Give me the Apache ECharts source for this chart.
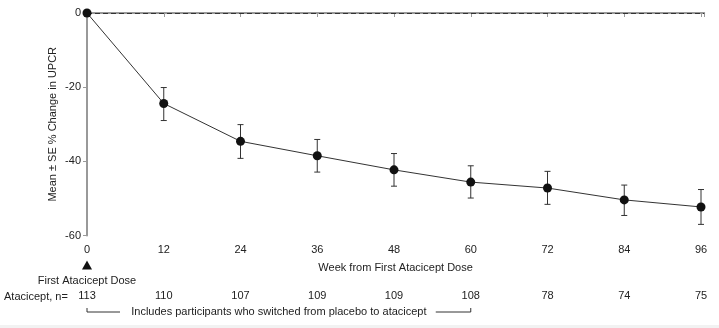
<!DOCTYPE html>
<html><head><meta charset="utf-8">
<script src="https://cdn.jsdelivr.net/npm/echarts@6/dist/echarts.min.js"></script>
<style>html,body{margin:0;padding:0;background:#fff}#c{width:719px;height:328px}</style>
</head><body><div id="c"></div>
<script>
const weeks = [0, 12, 24, 36, 48, 60, 72, 84, 96];
const meanChange = [0, -24.4, -34.6, -38.5, -42.3, -45.6, -47.2, -50.4, -52.3];
const seLow = [null, -29.0, -39.2, -42.9, -46.7, -49.9, -51.6, -54.6, -57.0];
const seHigh = [null, -20.1, -30.1, -34.1, -37.9, -41.2, -42.7, -46.4, -47.6];
const nAtRisk = [113, 110, 107, 109, 109, 108, 78, 74, 75];
const yTicks = [0, -20, -40, -60];

const font = 'Liberation Sans, Arial, sans-serif';
const txt = '#222';
const chart = echarts.init(document.getElementById('c'));
const lineData = weeks.map((w, i) => [w, meanChange[i]]);
const errData = weeks.map((w, i) => [w, seLow[i], seHigh[i]]).filter(d => d[1] !== null);
const nMap = {}; weeks.forEach((w, i) => nMap[w] = nAtRisk[i]);

chart.setOption({
  animation: false,
  grid: { left: 87, right: 14.8, top: 13, bottom: 92.5 },
  xAxis: [{
    type: 'value', min: 0, max: 96.5, interval: 12,
    name: 'Week from First Atacicept Dose', nameLocation: 'middle', nameGap: 27,
    nameTextStyle: { fontFamily: font, fontSize: 11, color: txt },
    axisLine: { lineStyle: { color: '#999', width: 2 } },
    axisTick: { length: 4, lineStyle: { color: '#999' } },
    axisLabel: { fontFamily: font, fontSize: 11, color: txt, margin: 9,
      formatter: v => (v % 12 === 0 && v <= 96) ? String(v) : '' },
    splitLine: { show: false }
  }, {
    type: 'value', min: 0, max: 96.5, interval: 12, position: 'bottom', offset: 47,
    axisLine: { show: false }, axisTick: { show: false }, splitLine: { show: false },
    axisLabel: { fontFamily: font, fontSize: 11, color: txt, margin: 8,
      formatter: v => nMap[v] !== undefined ? String(nMap[v]) : '' }
  }],
  yAxis: {
    type: 'value', min: -60, max: 0, interval: 20,
    name: 'Mean \u00b1 SE % Change in UPCR', nameLocation: 'middle', nameGap: 29,
    nameMoveOverlap: false,
    nameTextStyle: { fontFamily: font, fontSize: 11, color: txt },
    axisLine: { show: true, lineStyle: { color: '#999', width: 2 } },
    axisTick: { show: true, length: 4, lineStyle: { color: '#999' } },
    axisLabel: { fontFamily: font, fontSize: 11, color: txt, margin: 6,
      formatter: v => yTicks.includes(v) ? String(v) : '' },
    splitLine: { show: false }
  },
  series: [{
    type: 'line', data: lineData, symbol: 'circle', symbolSize: 9,
    lineStyle: { color: '#333', width: 1 }, itemStyle: { color: '#111' }, z: 5,
    markLine: { silent: true, symbol: 'none', label: { show: false },
      lineStyle: { color: '#333', type: [5, 3], width: 1 }, data: [{ yAxis: 0 }] }
  }, {
    type: 'custom', data: errData, z: 4,
    renderItem: (params, api) => {
      const x = api.value(0);
      const lo = api.coord([x, api.value(1)]);
      const hi = api.coord([x, api.value(2)]);
      const w = 3;
      const st = { stroke: '#333', lineWidth: 1 };
      return { type: 'group', children: [
        { type: 'line', shape: { x1: lo[0], y1: lo[1], x2: hi[0], y2: hi[1] }, style: st },
        { type: 'line', shape: { x1: lo[0] - w, y1: lo[1], x2: lo[0] + w, y2: lo[1] }, style: st },
        { type: 'line', shape: { x1: hi[0] - w, y1: hi[1], x2: hi[0] + w, y2: hi[1] }, style: st }
      ]};
    }
  }]
});

const p0 = chart.convertToPixel({ xAxisIndex: 0, yAxisIndex: 0 }, [0, -60]);
const p60 = chart.convertToPixel({ xAxisIndex: 0, yAxisIndex: 0 }, [60, -60]);
const baseY = p0[1];
const bY = baseY + 76.5;
chart.setOption({ graphic: [
  { type: 'polygon', shape: { points: [[p0[0] - 5, baseY + 34], [p0[0] + 5, baseY + 34], [p0[0], baseY + 25]] }, style: { fill: '#111' } },
  { type: 'text', x: p0[0], y: baseY + 45, style: { text: 'First Atacicept Dose', font: '11px ' + font, fill: txt, align: 'center', verticalAlign: 'middle' } },
  { type: 'text', x: 4, y: baseY + 61, style: { text: 'Atacicept, n=', font: '11px ' + font, fill: txt, align: 'left', verticalAlign: 'middle' } },
  { type: 'polyline', shape: { points: [[p0[0], bY - 4], [p0[0], bY], [p0[0] + 33, bY]] }, style: { stroke: '#333', lineWidth: 1, fill: null } },
  { type: 'polyline', shape: { points: [[p60[0] - 35, bY], [p60[0], bY], [p60[0], bY - 4]] }, style: { stroke: '#333', lineWidth: 1, fill: null } },
  { type: 'text', x: (p0[0] + p60[0]) / 2, y: bY, style: { text: 'Includes participants who switched from placebo to atacicept', font: '11px ' + font, fill: txt, align: 'center', verticalAlign: 'middle' } },
  { type: 'rect', shape: { x: 0, y: 325, width: 719, height: 3 }, style: { fill: '#f2f2f2' }, silent: true }
]});
</script></body></html>
